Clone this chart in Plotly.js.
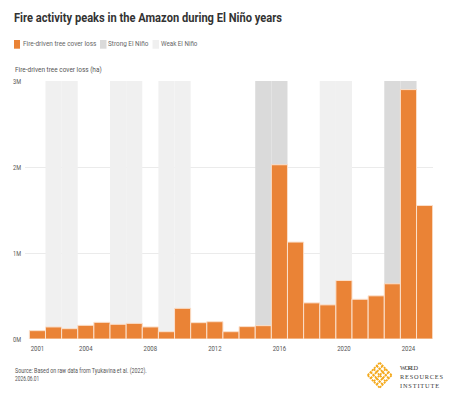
<!DOCTYPE html>
<html>
<head>
<meta charset="utf-8">
<script src="https://cdn.plot.ly/plotly-3.0.1.min.js"></script>
<style>html,body{margin:0;padding:0;background:#fff;}#chart{width:455px;height:404px;}</style>
</head>
<body>
<div id="chart"></div>
<script>
// ---- data ----
const years = [2001,2002,2003,2004,2005,2006,2007,2008,2009,2010,2011,2012,2013,2014,2015,2016,2017,2018,2019,2020,2021,2022,2023,2024,2025];
const fireLoss = [97000,140000,120000,159000,194000,171000,182000,140000,85000,357000,190000,201000,85000,144000,155000,2026000,1127000,420000,397000,680000,462000,502000,642000,2900000,1552000];
const strongYears = [2015,2016,2023,2024];
const weakYears = [2002,2003,2006,2007,2009,2010,2019,2020];
const yMax = 3000000;
const yTickVals = [0,1000000,2000000,3000000];
const yTickText = ['0M','1M','2M','3M'];
const xTickVals = [2001,2004,2008,2012,2016,2020,2024];
const seriesNames = ['Fire-driven tree cover loss','Strong El Niño','Weak El Niño'];

// ---- style ----
const FONT = 'Roboto,"DejaVu Sans",sans-serif';
const SERIF = '"Liberation Serif","DejaVu Serif",serif';
const ORANGE = '#EA8336';
const STRONG = '#DADADA';
const WEAK = '#F0F0F0';
const W = 455, H = 404;
const M = {l:25, r:22, t:81, b:65};
const PW = W - M.l - M.r, PH = H - M.t - M.b;
const px = x => (x - M.l) / PW;
const py = y => (H - M.b - y) / PH;

const traces = [
  {type:'bar', x:strongYears, y:strongYears.map(()=>yMax), width:1, name:seriesNames[1],
   marker:{color:STRONG, line:{width:0}}, hoverinfo:'skip'},
  {type:'bar', x:weakYears, y:weakYears.map(()=>yMax), width:1, name:seriesNames[2],
   marker:{color:WEAK, line:{width:0}}, hoverinfo:'skip'},
  {type:'bar', x:years, y:fireLoss, width:1, name:seriesNames[0],
   marker:{color:ORANGE, line:{color:'#FBE0CC', width:1}}}
];

// logo lattice as svg
function lattice(){
  const w=24,h=25, n=4;
  const L=[0,h/2], a=[w/2,-h/2], b=[w/2,h/2];
  let p='';
  for(let k=0;k<=n;k++){
    const s=k/n;
    const p0=[L[0]+s*a[0], L[1]+s*a[1]], p1=[p0[0]+b[0], p0[1]+b[1]];
    p+=`<line x1="${p0[0]+2}" y1="${p0[1]+2}" x2="${p1[0]+2}" y2="${p1[1]+2}"/>`;
    const q0=[L[0]+s*b[0], L[1]+s*b[1]], q1=[q0[0]+a[0], q0[1]+a[1]];
    p+=`<line x1="${q0[0]+2}" y1="${q0[1]+2}" x2="${q1[0]+2}" y2="${q1[1]+2}"/>`;
  }
  const svg=`<svg xmlns="http://www.w3.org/2000/svg" width="${w+4}" height="${h+4}" viewBox="0 0 ${w+4} ${h+4}"><g stroke="#F4AA1E" stroke-width="1.8" stroke-dasharray="2.2 0.8" fill="none">${p}</g></svg>`;
  return 'data:image/svg+xml;base64,'+btoa(svg);
}

const legendItems = [
  {x:14, w:6, color:ORANGE, label:seriesNames[0], tx:21.7, tw:73.3},
  {x:100, w:6.5, color:STRONG, label:seriesNames[1], tx:107.3, tw:40.4},
  {x:152.5, w:6.5, color:WEAK, label:seriesNames[2], tx:160.3, tw:36.4}
];
const shapes = legendItems.map(it=>({type:'rect', xref:'paper', yref:'paper', x0:px(it.x), x1:px(it.x+it.w), y0:py(48.7), y1:py(40), fillcolor:it.color, line:{width:0}}));

const ann = (x,y,text,size,color,family) => ({xref:'paper', yref:'paper', x:px(x), y:py(y), text, showarrow:false, xanchor:'left', yanchor:'middle', align:'left', borderpad:0, font:{family:family||FONT, size, color}});

// [annotation, fitted width, adjust mode]
const annSpecs = [
  ...legendItems.map(it=>[ann(it.tx,43.7,it.label,7.2,'#666'), it.tw]),
  [ann(14,70,'Fire-driven tree cover loss (ha)',8,'#555'), 86.7],
  [ann(14,371,'Source: Based on raw data from Tyukavina et al. (2022).',6.5,'#555'), 131.7],
  [ann(14,378.5,'2026.06.01',6.5,'#555'), 24.3],
  [ann(399.3,367.3,'WORLD',6.3,'#3a3a3a',SERIF), 18, 'spacing'],
  [ann(399.3,376.3,'RESOURCES',6.3,'#3a3a3a',SERIF), 43, 'spacing'],
  [ann(399.3,385.3,'INSTITUTE',6.3,'#3a3a3a',SERIF), 39, 'spacing']
];

const layout = {
  width:W, height:H, margin:M, paper_bgcolor:'#fff', plot_bgcolor:'#fff',
  barmode:'overlay', showlegend:false,
  font:{family:FONT, color:'#555'},
  title:{text:'<b>Fire activity peaks in the Amazon during El Niño years</b>', x:14/W, xanchor:'left', xref:'container', y:1-17.5/H, yanchor:'middle', font:{family:FONT, size:13, color:'#333'}},
  xaxis:{range:[2000.23,2025.52], tickvals:xTickVals, ticktext:xTickVals.map(String), showgrid:false, zeroline:false, showline:false, ticks:'', ticklabelstandoff:3, tickfont:{size:7.5, color:'#555'}, fixedrange:true},
  yaxis:{range:[0,yMax], tickvals:yTickVals, ticktext:yTickText, showgrid:true, gridcolor:'#EBEBEB', gridwidth:1, zeroline:false, showline:false, ticks:'', tickfont:{size:7.5, color:'#555'}, fixedrange:true, ticklabelstandoff:3},
  shapes, annotations: annSpecs.map(s=>s[0]),
  images:[{source:lattice(), xref:'paper', yref:'paper', x:px(365.7), y:py(360.7), sizex:28/PW, sizey:29/PH, xanchor:'left', yanchor:'top', sizing:'stretch', layer:'above'}]
};

function fit(el, len, adjust){
  if(!el) return;
  el.setAttribute('textLength', len);
  el.setAttribute('lengthAdjust', adjust || 'spacingAndGlyphs');
}

Plotly.newPlot('chart', traces, layout, {displayModeBar:false, staticPlot:true}).then(gd=>{
  fit(gd.querySelector('.gtitle'), 268);
  annSpecs.forEach((s,i)=>fit(gd.querySelector(`.annotation[data-index="${i}"] .annotation-text`), s[1], s[2]));
  gd.querySelectorAll('.xtick text').forEach(t=>fit(t, 13.5));
  gd.querySelectorAll('.ytick text').forEach(t=>fit(t, 8));
});
</script>
</body>
</html>
